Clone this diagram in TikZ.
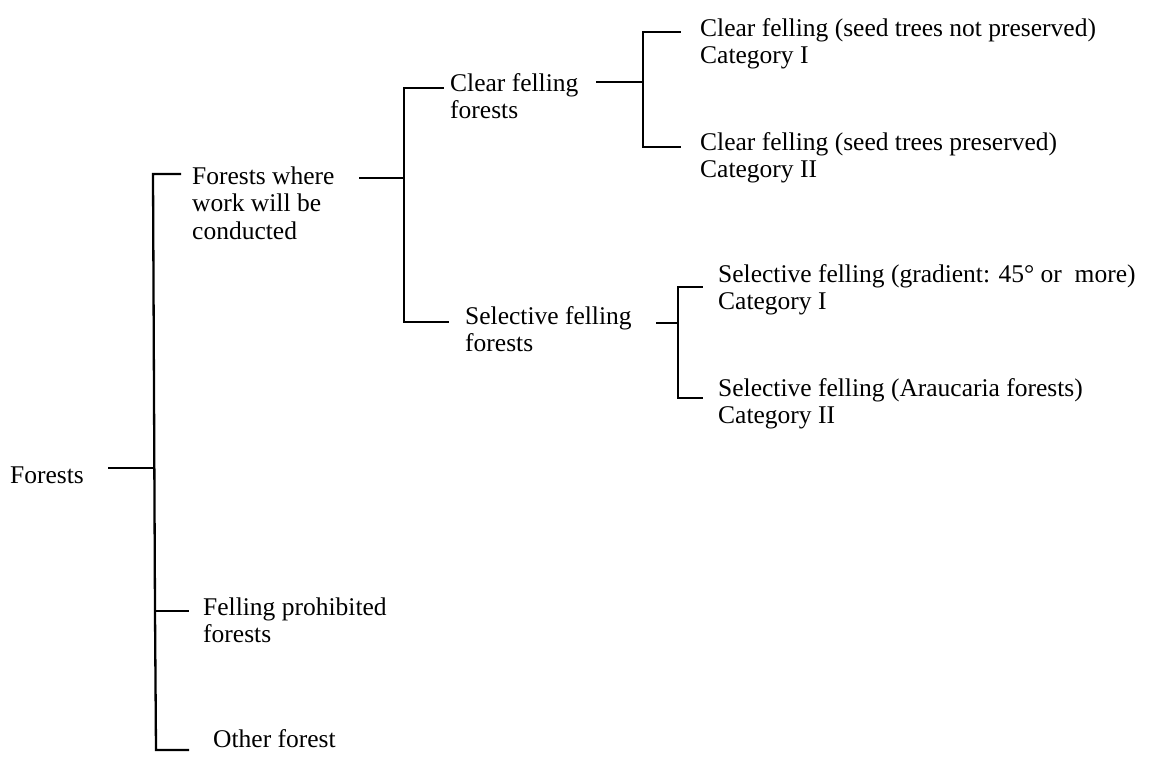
\documentclass[tikz,border=0pt]{standalone}
\usepackage{fontspec}
\setmainfont{Liberation Serif}
\begin{document}
\begin{tikzpicture}[x=1pt,y=-1pt,
  lbl/.style={anchor=base west, inner sep=0pt, align=left,
    font=\fontsize{25.5}{27.5}\selectfont},
  link/.style={line width=2.3pt, line cap=rect}]
\useasboundingbox[fill=white] (0,0) rectangle (1165,758);

% texts (base west = baseline of the last line)
\node[lbl] (forests) at (10,483) {Forests};
\node[lbl] (fw) at (192,239) {Forests where\\work will be\\conducted};
\node[lbl] (fp) at (203,642.5) {Felling prohibited\\forests};
\node[lbl] (of) at (213,747) {Other forest};
\node[lbl] (cf) at (450,118.5) {Clear felling\\forests};
\node[lbl] (sf) at (465,351.5) {Selective felling\\forests};
\node[lbl] (l1) at (700,63.5) {Clear felling (seed trees not preserved)\\Category I};
\node[lbl] (l2) at (700,177.5) {Clear felling (seed trees preserved)\\Category II};
\node[lbl] (l3) at (718,309.5) {Selective felling (gradient: 45\textdegree{} or\ \ more)\\Category I};
\node[lbl] (l4) at (718,423.5) {Selective felling (Araucaria forests)\\Category II};

% junction coordinates
\coordinate (r0) at (109,468);   \coordinate (rj) at (154,468);
\coordinate (rt) at (153,174);   \coordinate (rte) at (180,174);
\coordinate (rp) at (155,611);   \coordinate (rpe) at (188,611);
\coordinate (rb) at (156,750);   \coordinate (rbe) at (188,750);

\coordinate (w0) at (360,178);   \coordinate (wj) at (404,178);
\coordinate (wt) at (404,88);    \coordinate (wte) at (443,88);
\coordinate (wb) at (404,322);   \coordinate (wbe) at (448,322);

\coordinate (c0) at (597,82);    \coordinate (cj) at (643,82);
\coordinate (ct) at (643,32);    \coordinate (cte) at (680,32);
\coordinate (cb) at (643,147);   \coordinate (cbe) at (680,147);

\coordinate (s0) at (657,323);   \coordinate (sj) at (678,323);
\coordinate (st) at (678,287);   \coordinate (ste) at (702,287);
\coordinate (sb) at (678,398);   \coordinate (sbe) at (702,398);

% root bracket
\draw[link] (r0) -- (rj);
\draw[link] (rte) -- (rt) -- (rp) -- (rb) -- (rbe);
\draw[link] (rp) -- (rpe);
% work bracket
\draw[link] (w0) -- (wj);
\draw[link] (wte) -- (wt) -- (wb) -- (wbe);
% clear felling bracket
\draw[link] (c0) -- (cj);
\draw[link] (cte) -- (ct) -- (cb) -- (cbe);
% selective felling bracket
\draw[link] (s0) -- (sj);
\draw[link] (ste) -- (st) -- (sb) -- (sbe);
\end{tikzpicture}
\end{document}
